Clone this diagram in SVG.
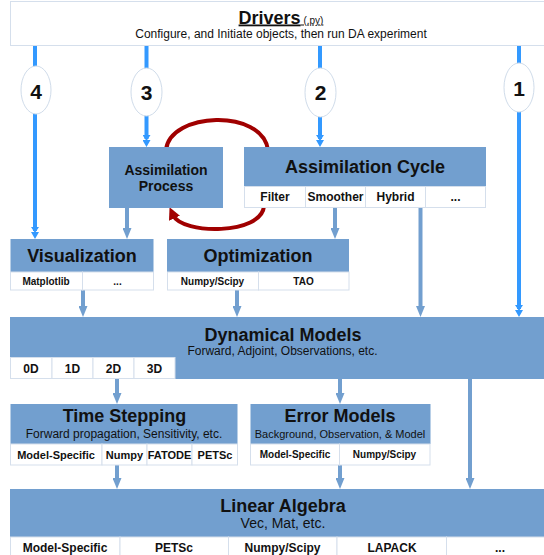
<svg xmlns="http://www.w3.org/2000/svg" width="544" height="555" viewBox="0 0 544 555">
<style>
text{font-family:"Liberation Sans",Arial,sans-serif;fill:#111;text-anchor:middle}
.box{fill:#729fcf}
.cell{fill:#fff;stroke:#d5dfec;stroke-width:1}
.t{font-weight:bold;font-size:18px}
.s{font-size:12px}
.c{font-weight:bold;font-size:12px}
.c10{font-weight:bold;font-size:10px}
.c11{font-weight:bold;font-size:11px}
.num{font-weight:bold;font-size:21px}
.blue{stroke:#3399ff;stroke-width:4;fill:none;marker-end:url(#mb)}
.steel{stroke:#729fcf;stroke-width:4;fill:none;marker-end:url(#ms)}
.red{stroke:#a00000;stroke-width:4;fill:none}
.oval{fill:#fff;stroke:#d0dcea;stroke-width:1}
</style>
<defs>
<marker id="mb" viewBox="0 0 12 8" markerUnits="userSpaceOnUse" markerWidth="12" markerHeight="8" refX="4" refY="4" orient="auto">
<path d="M0,0 L6,4 L0,8 Z M5,0 L12,4 L5,8 Z" fill="#3399ff"/>
</marker>
<marker id="ms" viewBox="0 0 11 9" markerUnits="userSpaceOnUse" markerWidth="11" markerHeight="9" refX="3" refY="4.5" orient="auto">
<path d="M0,0 L11,4.5 L0,9 Z" fill="#729fcf"/>
</marker>
<marker id="mr" viewBox="0 0 10 10" markerUnits="userSpaceOnUse" markerWidth="12" markerHeight="12" refX="3" refY="5" orient="auto">
<path d="M0,0 L10,5 L0,10 Z" fill="#a00000"/>
</marker>
</defs>
<rect width="544" height="555" fill="#fff"/>

<g id="connectors">
<path class="blue" d="M35,46 V231"/>
<path class="blue" d="M146.5,46 V139"/>
<path class="blue" d="M320,46 V139"/>
<path class="blue" d="M519,46 V309"/>
<path class="steel" d="M127,208 V231"/>
<path class="steel" d="M335,208 V231"/>
<path class="steel" d="M420.5,208 V309"/>
<path class="steel" d="M83,290 V309"/>
<path class="steel" d="M237,290 V309"/>
<path class="steel" d="M117,379 V396"/>
<path class="steel" d="M340,379 V396"/>
<path class="steel" d="M470,379 V481"/>
<path class="steel" d="M117,465 V481"/>
<path class="steel" d="M340,465 V481"/>
<path class="red" d="M166,150 C170,112 262,108 268,150"/>
<path class="red" d="M264,206 C262,235 182,235 173,215" marker-end="url(#mr)"/>
</g>

<g id="label-4"><ellipse class="oval" cx="36" cy="90" rx="15" ry="24"/><text class="num" x="36" y="99">4</text></g>
<g id="label-3"><ellipse class="oval" cx="146.5" cy="92" rx="15.5" ry="24"/><text class="num" x="146.5" y="100">3</text></g>
<g id="label-2"><ellipse class="oval" cx="320.5" cy="92.5" rx="15.5" ry="24.5"/><text class="num" x="320.5" y="100">2</text></g>
<g id="label-1"><ellipse class="oval" cx="519" cy="87.5" rx="15" ry="24.5"/><text class="num" x="519" y="96">1</text></g>

<g id="drivers">
<rect x="10.5" y="1.5" width="540" height="44" fill="#fff" stroke="#d5dfec"/>
<text x="281" y="23.5" text-decoration="underline"><tspan class="t">Drivers</tspan><tspan font-size="10px"> (.py)</tspan></text>
<text class="s" x="281" y="38">Configure, and Initiate objects, then run DA experiment</text>
</g>

<g id="assimilation-process">
<rect class="box" x="109" y="147" width="114" height="61"/>
<text font-weight="bold" font-size="14px" x="166" y="175">Assimilation</text>
<text font-weight="bold" font-size="14px" x="166" y="191">Process</text>
</g>

<g id="assimilation-cycle">
<rect class="box" x="244" y="147" width="242" height="39"/>
<text class="t" x="365" y="173">Assimilation Cycle</text>
<rect class="cell" x="244.5" y="186.5" width="61" height="21"/>
<rect class="cell" x="305.5" y="186.5" width="60" height="21"/>
<rect class="cell" x="365.5" y="186.5" width="60" height="21"/>
<rect class="cell" x="425.5" y="186.5" width="60" height="21"/>
<text class="c" x="275" y="201">Filter</text>
<text class="c" x="335.5" y="201">Smoother</text>
<text class="c" x="395.5" y="201">Hybrid</text>
<text class="c" x="455.5" y="201">...</text>
</g>

<g id="visualization">
<rect class="box" x="10.5" y="239" width="143" height="33"/>
<text class="t" x="82" y="262">Visualization</text>
<rect class="cell" x="10.5" y="272" width="72" height="18"/>
<rect class="cell" x="82.5" y="272" width="71" height="18"/>
<text class="c10" x="46" y="285">Matplotlib</text>
<text class="c10" x="117.5" y="285">...</text>
</g>

<g id="optimization">
<rect class="box" x="167" y="239" width="182" height="33"/>
<text class="t" x="258" y="262">Optimization</text>
<rect class="cell" x="167.5" y="272" width="91" height="18"/>
<rect class="cell" x="258.5" y="272" width="90.5" height="18"/>
<text class="c10" x="212.5" y="285">Numpy/Scipy</text>
<text class="c10" x="303.5" y="285">TAO</text>
</g>

<g id="dynamical-models">
<rect class="box" x="10" y="317" width="540" height="62"/>
<text class="t" x="283" y="340.5">Dynamical Models</text>
<text class="s" x="282.5" y="355">Forward, Adjoint, Observations, etc.</text>
<rect class="cell" x="10.5" y="357.5" width="41.5" height="21"/>
<rect class="cell" x="52" y="357.5" width="41" height="21"/>
<rect class="cell" x="93" y="357.5" width="41" height="21"/>
<rect class="cell" x="134" y="357.5" width="41" height="21"/>
<text class="c" x="31" y="372.5">0D</text>
<text class="c" x="72.5" y="372.5">1D</text>
<text class="c" x="113.5" y="372.5">2D</text>
<text class="c" x="154.5" y="372.5">3D</text>
</g>

<g id="time-stepping">
<rect class="box" x="10.5" y="404" width="227" height="40"/>
<text class="t" x="124.5" y="422">Time Stepping</text>
<text class="s" x="124" y="438">Forward propagation, Sensitivity, etc.</text>
<rect class="cell" x="10.5" y="444" width="91.5" height="21"/>
<rect class="cell" x="102" y="444" width="45" height="21"/>
<rect class="cell" x="147" y="444" width="45" height="21"/>
<rect class="cell" x="192" y="444" width="45.5" height="21"/>
<text class="c11" x="56" y="458.5">Model-Specific</text>
<text class="c11" x="124.5" y="458.5">Numpy</text>
<text class="c11" x="169.5" y="458.5">FATODE</text>
<text class="c11" x="215" y="458.5">PETSc</text>
</g>

<g id="error-models">
<rect class="box" x="250.5" y="404" width="180" height="40"/>
<text class="t" x="340" y="422">Error Models</text>
<text font-size="11px" x="340" y="438">Background, Observation, &amp; Model</text>
<rect class="cell" x="250.5" y="444" width="89" height="21"/>
<rect class="cell" x="339.5" y="444" width="90.5" height="21"/>
<text class="c10" x="295" y="458">Model-Specific</text>
<text class="c10" x="384.5" y="458">Numpy/Scipy</text>
</g>

<g id="linear-algebra">
<rect class="box" x="10" y="489" width="540" height="48"/>
<text class="t" x="283" y="512">Linear Algebra</text>
<text font-size="14px" x="283" y="528">Vec, Mat, etc.</text>
<rect class="cell" x="10.5" y="537" width="109.5" height="20"/>
<rect class="cell" x="120" y="537" width="108.5" height="20"/>
<rect class="cell" x="228.5" y="537" width="108.5" height="20"/>
<rect class="cell" x="337" y="537" width="109.5" height="20"/>
<rect class="cell" x="446.5" y="537" width="108.5" height="20"/>
<text class="c" x="65" y="552">Model-Specific</text>
<text class="c" x="174" y="552">PETSc</text>
<text class="c" x="282.5" y="552">Numpy/Scipy</text>
<text class="c" x="392" y="552">LAPACK</text>
<text class="c" x="500" y="552">...</text>
</g>
</svg>
